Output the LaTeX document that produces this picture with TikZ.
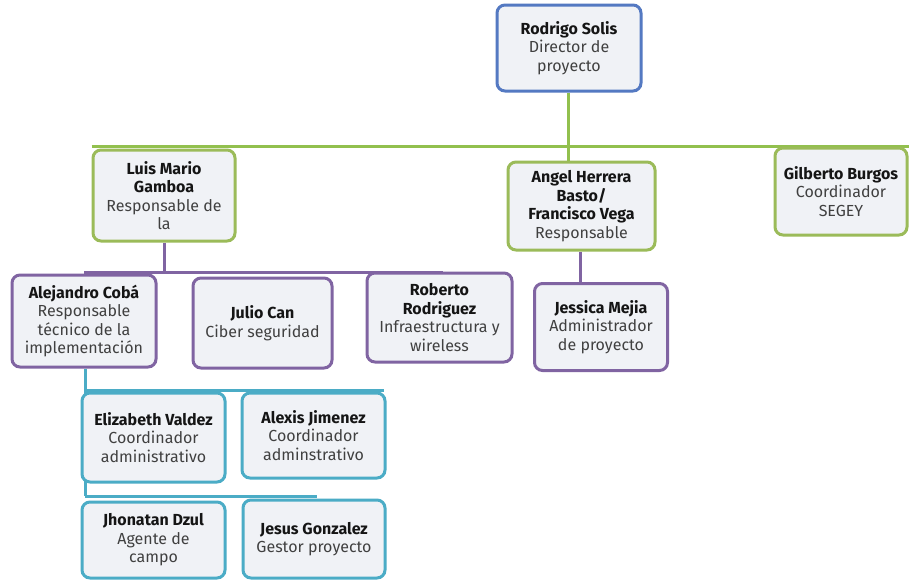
\documentclass[tikz,border=0pt]{standalone}
\usepackage{fontspec}
\setmainfont{Fira Sans}
\usetikzlibrary{backgrounds}
\definecolor{gbord}{HTML}{9BBB59}
\definecolor{gline}{HTML}{92C04E}
\definecolor{bbord}{HTML}{5479C2}
\definecolor{pbord}{HTML}{8064A2}
\definecolor{tbord}{HTML}{4BACC6}
\definecolor{boxfill}{HTML}{F0F2F6}
\definecolor{subtxt}{HTML}{404040}
\definecolor{nametxt}{HTML}{151515}
\tikzset{
  orgbox/.style={rectangle, rounded corners=8pt, line width=3pt, fill=boxfill,
    align=center, inner sep=0pt, text=subtxt,
    font=\fontsize{16}{18.5}\selectfont},
  gbox/.style={orgbox, draw=gbord},
  bbox/.style={orgbox, draw=bbord},
  pbox/.style={orgbox, draw=pbord},
  tbox/.style={orgbox, draw=tbord},
  gconn/.style={draw=gline, line width=3pt},
  pconn/.style={draw=pbord, line width=3pt},
  tconn/.style={draw=tbord, line width=3pt},
}
\newcommand{\nm}[1]{{\bfseries\color{nametxt}#1}}
\begin{document}
\begin{tikzpicture}[x=1pt,y=-1pt]
\useasboundingbox (0,0) rectangle (911,579);
\coordinate (gbus) at (0,146);
\coordinate (pbus) at (0,272);
\coordinate (tbus1) at (0,390);
\coordinate (tbus2) at (0,496);
% nodes
\node[bbox, minimum width=144pt, minimum height=86pt] (rod) at (569,48) {\nm{Rodrigo Solis}\\Director de\\proyecto};
\node[gbox, minimum width=142pt, minimum height=91pt] (luis) at (164,195.5) {\nm{Luis Mario}\\\nm{Gamboa}\\Responsable de\\la};
\node[gbox, minimum width=147pt, minimum height=88pt] (ang) at (581.5,206) {\nm{Angel Herrera}\\\nm{Basto/}\\\nm{Francisco Vega}\\Responsable};
\node[gbox, minimum width=132pt, minimum height=87pt] (gil) at (841,191.5) {\nm{Gilberto Burgos}\\Coordinador\\SEGEY};
\node[pbox, minimum width=144pt, minimum height=92pt] (ale) at (84,321) {\nm{Alejandro Cobá}\\Responsable\\técnico de la\\implementación};
\node[pbox, minimum width=139pt, minimum height=90pt] (jul) at (262.5,323) {\nm{Julio Can}\\Ciber seguridad};
\node[pbox, minimum width=145pt, minimum height=89pt] (rob) at (439.5,317.5) {\nm{Roberto}\\\nm{Rodriguez}\\Infraestructura y\\wireless};
\node[pbox, minimum width=133pt, minimum height=87pt] (jes) at (601,327) {\nm{Jessica Mejia}\\Administrador\\de proyecto};
\node[tbox, minimum width=143pt, minimum height=89pt] (eli) at (153.5,437.5) {\nm{Elizabeth Valdez}\\Coordinador\\administrativo};
\node[tbox, minimum width=143pt, minimum height=85pt] (alx) at (313.5,435.5) {\nm{Alexis Jimenez}\\Coordinador\\adminstrativo};
\node[tbox, minimum width=143pt, minimum height=76pt] (jho) at (153.5,540) {\nm{Jhonatan Dzul}\\Agente de\\campo};
\node[tbox, minimum width=142pt, minimum height=78pt] (jgo) at (314,539) {\nm{Jesus Gonzalez}\\Gestor proyecto};
% connectors behind the boxes
\begin{pgfonlayer}{background}
\fill[white] (0,0) rectangle (911,579);
\draw[gconn] ([xshift=-1pt]rod.south) -- ([xshift=-1pt]rod.south |- ang.north);
\draw[gconn] (luis.north west |- gbus) -- (gil.north east |- gbus);
\draw[pconn] (luis.south) -- (luis.south |- pbus);
\draw[pconn] (ale.north |- pbus) -- ([xshift=3pt]rob.north |- pbus);
\draw[pconn] ([xshift=-1.5pt]ang.south) -- ([xshift=-1.5pt]ang.south |- jes.north);
\draw[tconn] ([xshift=1pt]ale.south) -- ([xshift=1pt]ale.south |- tbus2);
\draw[tconn] ([xshift=1pt]ale.south |- tbus1) -- ([xshift=-3pt]alx.north east |- tbus1);
\draw[tconn] ([xshift=1pt]ale.south |- tbus2) -- ([xshift=3pt]jgo.north |- tbus2);
\end{pgfonlayer}
\end{tikzpicture}
\end{document}
